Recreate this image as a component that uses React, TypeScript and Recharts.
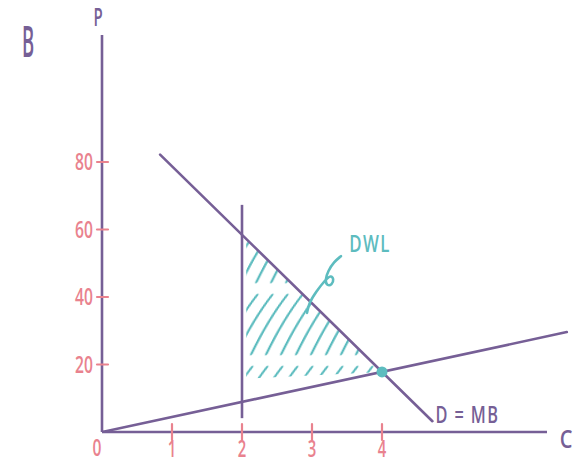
import React from 'react';
import {
  ComposedChart,
  XAxis,
  YAxis,
  Line,
  Area,
  Scatter,
  ReferenceLine,
  ReferenceDot,
} from 'recharts';

const PURPLE = '#765f96';
const PINK = '#e9828e';
const TEAL = '#5dbcbf';
const FONT = '"Open Sans", "DejaVu Sans", sans-serif';

// Axis ticks
const qTicks = [0, 1, 2, 3, 4];
const pTicks = [20, 40, 60, 80];

// Demand (= marginal benefit) line end points
const demandQ = [0.83, 4.72];
const demandP = [82.2, 3.2];

// Supply line end points
const supplyQ = [0, 6.64];
const supplyP = [0, 29.6];

// Quantity restriction at Q = 2
const quotaQ = 2;
const quotaP = [4.1, 67.3];

// Deadweight loss region (low / high bound at each quantity)
const dwlQ = [2.06, 4];
const dwlLow = [15.8, 17.8];
const dwlHigh = [57.2, 17.8];

// Market equilibrium
const eqQ = 4;
const eqP = 17.8;

// Pointer from the DWL note down to the shaded region
const arrowQ = [3.414, 3.314, 3.229, 3.186, 3.214, 3.286, 3.314, 3.271, 3.186, 3.057, 2.957, 2.929];
const arrowP = [52.1, 50.4, 47.7, 45.0, 43.3, 43.6, 45.3, 46.5, 45.0, 41.5, 38.2, 35.3];

// X-axis line extent
const axisEndQ = 6.357;

// In-chart notes
const noteQ = [3.83, 5.22];
const noteP = [53.2, 2.7];
const noteText = ['DWL', 'D = MB'];
const noteColor = [TEAL, PURPLE];
const noteScale = [0.7, 0.68];

const demandData = demandQ.map((q, i) => ({ q, p: demandP[i] }));
const supplyData = supplyQ.map((q, i) => ({ q, p: supplyP[i] }));
const dwlData = dwlQ.map((q, i) => ({ q, band: [dwlLow[i], dwlHigh[i]] }));
const arrowData = arrowQ.map((q, i) => ({ q, p: arrowP[i] }));
const noteData = noteQ.map((q, i) => ({
  q,
  p: noteP[i],
  text: noteText[i],
  color: noteColor[i],
  sx: noteScale[i],
}));

type GlyphProps = {
  x: number;
  y: number;
  text: string;
  size: number;
  sx: number;
  color: string;
  anchor?: 'start' | 'middle' | 'end';
  spacing?: number;
};

const Glyphs = ({ x, y, text, size, sx, color, anchor = 'middle', spacing = 0 }: GlyphProps) => (
  <text
    transform={`translate(${x},${y}) scale(${sx},1)`}
    x={0}
    y={0}
    textAnchor={anchor}
    fill={color}
    fontFamily={FONT}
    fontSize={size}
    fontWeight={600}
    letterSpacing={spacing}
  >
    {text}
  </text>
);

const QTick = (props: any) => {
  const { x, y, payload } = props;
  const v = payload.value;
  if (v === 0) {
    return <Glyphs x={x - 5} y={y + 24} text="0" size={24} sx={0.65} color={PINK} />;
  }
  return (
    <g>
      <line x1={x} x2={x} y1={y - 8} y2={y + 8} stroke={PINK} strokeWidth={2.2} strokeLinecap="round" />
      <Glyphs x={x} y={y + 25} text={String(v)} size={24} sx={0.62} color={PINK} />
    </g>
  );
};

const PTick = (props: any) => {
  const { x, y, payload } = props;
  return (
    <g>
      <line x1={x - 5} x2={x + 6} y1={y} y2={y} stroke={PINK} strokeWidth={2.2} strokeLinecap="round" />
      <Glyphs x={x - 9} y={y + 8} text={String(payload.value)} size={23} sx={0.68} color={PINK} anchor="end" />
    </g>
  );
};

const NoteShape = (props: any) => {
  const { cx, cy, payload } = props;
  return (
    <Glyphs
      x={cx}
      y={cy}
      text={payload.text}
      size={24}
      sx={payload.sx}
      color={payload.color}
      spacing={payload.text === 'DWL' ? 2 : 2}
    />
  );
};

export default function App() {
  return (
    <div style={{ position: 'absolute', left: 0, top: 0, width: 573, height: 464, background: '#fff' }}>
      <ComposedChart
        width={573}
        height={464}
        margin={{ top: 35, right: 3, bottom: 0, left: 0 }}
      >
        <defs>
          <pattern
            id="dwlHatch"
            patternUnits="userSpaceOnUse"
            width={15}
            height={72}
            patternTransform="skewX(-26)"
          >
            <path
              d="M4 66 C4 46 6 24 11 7"
              fill="none"
              stroke={TEAL}
              strokeWidth={2.6}
              strokeLinecap="round"
            />
          </pattern>
        </defs>
        <XAxis
          type="number"
          dataKey="q"
          domain={[0, 6.6857]}
          allowDataOverflow
          ticks={qTicks}
          interval={0}
          axisLine={false}
          tickLine={false}
          tickSize={0}
          tickMargin={0}
          height={32}
          tick={<QTick />}
        />
        <YAxis
          type="number"
          domain={[0, 117.63]}
          allowDataOverflow
          ticks={pTicks}
          interval={0}
          width={102}
          axisLine={{ stroke: PURPLE, strokeWidth: 2.6 }}
          tickLine={false}
          tickSize={0}
          tickMargin={0}
          tick={<PTick />}
        />
        <ReferenceLine
          segment={[{ x: 0, y: 0 }, { x: axisEndQ, y: 0 }]}
          stroke={PURPLE}
          strokeWidth={2.6}
          ifOverflow="visible"
        />
        <Area
          data={dwlData}
          dataKey="band"
          type="linear"
          stroke="none"
          fill="url(#dwlHatch)"
          fillOpacity={1}
          isAnimationActive={false}
        />
        <ReferenceLine
          segment={[{ x: quotaQ, y: quotaP[0] }, { x: quotaQ, y: quotaP[1] }]}
          stroke={PURPLE}
          strokeWidth={2.6}
        />
        <Line
          data={supplyData}
          dataKey="p"
          type="linear"
          stroke={PURPLE}
          strokeWidth={2.6}
          strokeLinecap="round"
          dot={false}
          activeDot={false}
          isAnimationActive={false}
        />
        <Line
          data={demandData}
          dataKey="p"
          type="linear"
          stroke={PURPLE}
          strokeWidth={2.6}
          strokeLinecap="round"
          dot={false}
          activeDot={false}
          isAnimationActive={false}
        />
        <Line
          data={arrowData}
          dataKey="p"
          type="basis"
          stroke={TEAL}
          strokeWidth={2.6}
          strokeLinecap="round"
          dot={false}
          activeDot={false}
          isAnimationActive={false}
        />
        <ReferenceDot x={eqQ} y={eqP} r={5.5} fill={TEAL} stroke="none" />
        <Scatter
          data={noteData}
          dataKey="p"
          shape={<NoteShape />}
          isAnimationActive={false}
        />
      </ComposedChart>
      <svg
        width={573}
        height={464}
        style={{ position: 'absolute', left: 0, top: 0, pointerEvents: 'none' }}
      >
        <Glyphs x={28} y={57} text="B" size={44} sx={0.42} color={PURPLE} />
        <Glyphs x={98} y={26} text="P" size={25} sx={0.6} color={PURPLE} />
        <Glyphs x={566} y={448} text="C" size={25} sx={0.8} color={PURPLE} />
      </svg>
    </div>
  );
}
